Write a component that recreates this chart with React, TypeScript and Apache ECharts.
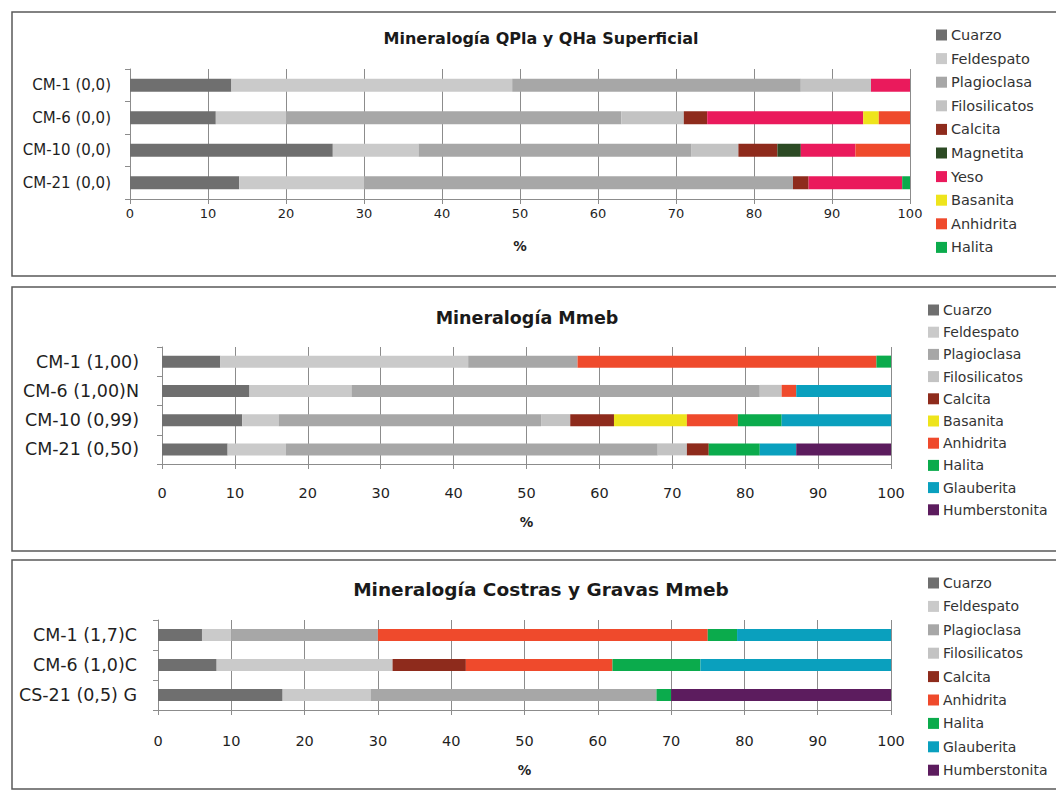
import React, { useEffect, useRef } from "react";
import * as echarts from "echarts";

// ---------- Panel 1: Mineralogía QPla y QHa Superficial ----------
const categories1 = ["CM-1 (0,0)", "CM-6 (0,0)", "CM-10 (0,0)", "CM-21 (0,0)"];
const minerals1 = ["Cuarzo", "Feldespato", "Plagioclasa", "Filosilicatos", "Calcita", "Magnetita", "Yeso", "Basanita", "Anhidrita", "Halita"];
const p1Cuarzo = [13, 11, 26, 14];
const p1Feldespato = [36, 9, 11, 16];
const p1Plagioclasa = [37, 43, 35, 55];
const p1Filosilicatos = [9, 8, 6, 0];
const p1Calcita = [0, 3, 5, 2];
const p1Magnetita = [0, 0, 3, 0];
const p1Yeso = [5, 20, 7, 12];
const p1Basanita = [0, 2, 0, 0];
const p1Anhidrita = [0, 4, 7, 0];
const p1Halita = [0, 0, 0, 1];
const values1 = [p1Cuarzo, p1Feldespato, p1Plagioclasa, p1Filosilicatos, p1Calcita, p1Magnetita, p1Yeso, p1Basanita, p1Anhidrita, p1Halita];

// ---------- Panel 2: Mineralogía Mmeb ----------
const categories2 = ["CM-1 (1,00)", "CM-6 (1,00)N", "CM-10 (0,99)", "CM-21 (0,50)"];
const minerals2 = ["Cuarzo", "Feldespato", "Plagioclasa", "Filosilicatos", "Calcita", "Basanita", "Anhidrita", "Halita", "Glauberita", "Humberstonita"];
const p2Cuarzo = [8, 12, 11, 9];
const p2Feldespato = [34, 14, 5, 8];
const p2Plagioclasa = [15, 56, 36, 51];
const p2Filosilicatos = [0, 3, 4, 4];
const p2Calcita = [0, 0, 6, 3];
const p2Basanita = [0, 0, 10, 0];
const p2Anhidrita = [41, 2, 7, 0];
const p2Halita = [2, 0, 6, 7];
const p2Glauberita = [0, 13, 15, 5];
const p2Humberstonita = [0, 0, 0, 13];
const values2 = [p2Cuarzo, p2Feldespato, p2Plagioclasa, p2Filosilicatos, p2Calcita, p2Basanita, p2Anhidrita, p2Halita, p2Glauberita, p2Humberstonita];

// ---------- Panel 3: Mineralogía Costras y Gravas Mmeb ----------
const categories3 = ["CM-1 (1,7)C", "CM-6 (1,0)C", "CS-21 (0,5) G"];
const minerals3 = ["Cuarzo", "Feldespato", "Plagioclasa", "Filosilicatos", "Calcita", "Anhidrita", "Halita", "Glauberita", "Humberstonita"];
const p3Cuarzo = [6, 8, 17];
const p3Feldespato = [4, 24, 12];
const p3Plagioclasa = [20, 0, 39];
const p3Filosilicatos = [0, 0, 0];
const p3Calcita = [0, 10, 0];
const p3Anhidrita = [45, 20, 0];
const p3Halita = [4, 12, 2];
const p3Glauberita = [21, 26, 0];
const p3Humberstonita = [0, 0, 30];
const values3 = [p3Cuarzo, p3Feldespato, p3Plagioclasa, p3Filosilicatos, p3Calcita, p3Anhidrita, p3Halita, p3Glauberita, p3Humberstonita];

const titles = ["Mineralogía QPla y QHa Superficial", "Mineralogía Mmeb", "Mineralogía Costras y Gravas Mmeb"];
const ticks = [0, 10, 20, 30, 40, 50, 60, 70, 80, 90, 100];

const COLORS: Record<string, string> = {
  Cuarzo: "#6f6f6f",
  Feldespato: "#cacaca",
  Plagioclasa: "#a7a7a7",
  Filosilicatos: "#c3c3c3",
  Calcita: "#8e2b1c",
  Magnetita: "#2c4a24",
  Yeso: "#ea1a5c",
  Basanita: "#eee41c",
  Anhidrita: "#ef4a2c",
  Halita: "#0bab4c",
  Glauberita: "#0aa0be",
  Humberstonita: "#5c1c5e",
};

const FONT = "DejaVu Sans";

export default function App() {
  const ref = useRef<HTMLDivElement>(null);
  useEffect(() => {
    if (!ref.current) return;
    const chart = echarts.init(ref.current, null, { renderer: "svg" });

    const panels = [
      { cats: categories1, minerals: minerals1, values: values1, grid: { left: 130, right: 146, top: 69, height: 130 }, barWidth: 13, yFont: 15, yMargin: 19, xFont: 13, xMargin: 8, nameGap: 40 },
      { cats: categories2, minerals: minerals2, values: values2, grid: { left: 162, right: 165, top: 347, height: 117 }, barWidth: 12, yFont: 17.5, yMargin: 23, xFont: 14.5, xMargin: 21, nameGap: 51 },
      { cats: categories3, minerals: minerals3, values: values3, grid: { left: 158, right: 165, top: 620, height: 90 }, barWidth: 12, yFont: 17.5, yMargin: 21, xFont: 14.5, xMargin: 23, nameGap: 53 },
    ];

    const axisColor = "#8c8c8c";
    const series: any[] = [];
    panels.forEach((p, pi) => {
      p.minerals.forEach((m, mi) => {
        series.push({
          type: "bar",
          name: m,
          stack: "panel" + pi,
          xAxisIndex: pi,
          yAxisIndex: pi,
          barWidth: p.barWidth,
          data: p.values[mi],
          itemStyle: { color: COLORS[m] },
          emphasis: { disabled: true },
        });
      });
    });

    const legendTops = [27, 302, 575];
    const legendLefts = [936, 928, 928];
    const legendGaps = [7.6, 6.2, 7.4];
    const legendFonts = [14.5, 14, 14];

    chart.setOption({
      animation: false,
      backgroundColor: "#ffffff",
      grid: panels.map((p) => ({ ...p.grid, containLabel: false })),
      xAxis: panels.map((p, pi) => ({
        type: "value",
        gridIndex: pi,
        min: ticks[0],
        max: ticks[ticks.length - 1],
        interval: 10,
        axisLine: { show: true, lineStyle: { color: axisColor, width: 1 } },
        axisTick: { show: true, length: 5, lineStyle: { color: axisColor } },
        splitLine: { show: true, lineStyle: { color: axisColor, width: 1 } },
        axisLabel: { fontSize: p.xFont, color: "#1f1f1f", fontFamily: FONT, margin: p.xMargin },
        name: "%",
        nameLocation: "middle",
        nameGap: p.nameGap,
        nameTextStyle: { fontSize: 13.5, fontWeight: "bold", color: "#1f1f1f", fontFamily: FONT },
      })),
      yAxis: panels.map((p, pi) => ({
        type: "category",
        gridIndex: pi,
        data: p.cats,
        inverse: true,
        axisLine: { show: true, lineStyle: { color: axisColor, width: 1 } },
        axisTick: { show: true, length: 5, lineStyle: { color: axisColor } },
        splitLine: { show: false },
        axisLabel: { fontSize: p.yFont, color: "#1f1f1f", fontFamily: FONT, margin: p.yMargin },
      })),
      legend: panels.map((p, pi) => ({
        data: p.minerals,
        orient: "vertical",
        left: legendLefts[pi],
        top: legendTops[pi],
        icon: "rect",
        itemWidth: 11,
        itemHeight: 11,
        itemGap: legendGaps[pi],
        selectedMode: false,
        padding: 0,
        textStyle: { fontSize: legendFonts[pi], color: "#333333", fontFamily: FONT, lineHeight: 16, padding: [0, 0, 0, -1] },
      })),
      graphic: [
        { type: "rect", shape: { x: 12, y: 12, width: 1060, height: 264 }, style: { fill: "none", stroke: "#5a5a5a", lineWidth: 1.5 }, silent: true },
        { type: "rect", shape: { x: 12, y: 287, width: 1060, height: 264 }, style: { fill: "none", stroke: "#5a5a5a", lineWidth: 1.5 }, silent: true },
        { type: "rect", shape: { x: 12, y: 560, width: 1060, height: 229 }, style: { fill: "none", stroke: "#5a5a5a", lineWidth: 1.5 }, silent: true },
        { type: "text", x: 541, y: 38, style: { text: titles[0], fontSize: 16, fontWeight: "bold", fontFamily: FONT, fill: "#1a1a1a", textAlign: "center", textVerticalAlign: "middle" }, silent: true },
        { type: "text", x: 527, y: 318, style: { text: titles[1], fontSize: 17.5, fontWeight: "bold", fontFamily: FONT, fill: "#1a1a1a", textAlign: "center", textVerticalAlign: "middle" }, silent: true },
        { type: "text", x: 541, y: 589, style: { text: titles[2], fontSize: 18.5, fontWeight: "bold", fontFamily: FONT, fill: "#1a1a1a", textAlign: "center", textVerticalAlign: "middle" }, silent: true },
      ],
      series,
    });

    return () => chart.dispose();
  }, []);

  return <div ref={ref} style={{ position: "absolute", left: 0, top: 0, width: 1056, height: 792 }} />;
}
